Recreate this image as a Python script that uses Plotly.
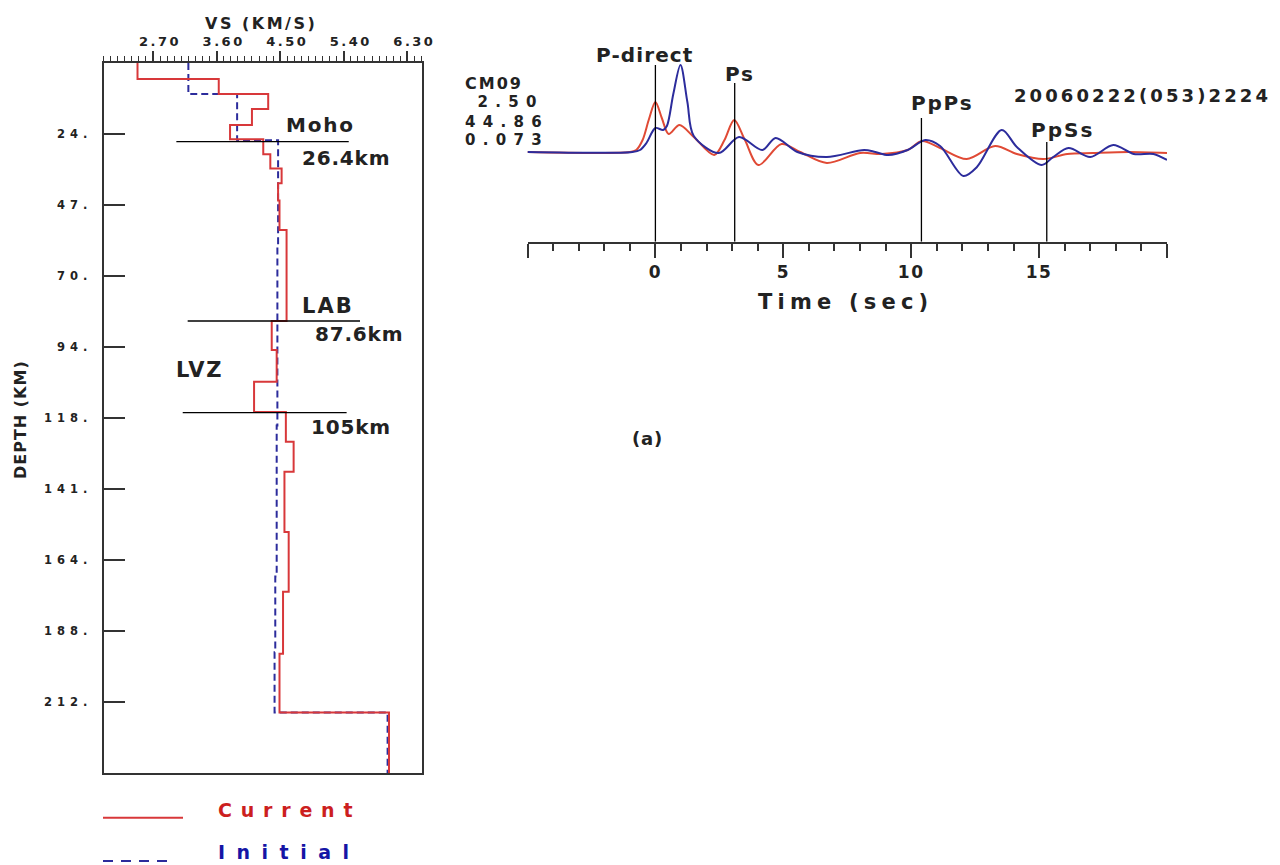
import plotly.graph_objects as go

W, H = 1280, 865


def px_x(x):
    return x / W


def px_y(y):
    return 1 - y / H


def ls(text, sp):
    return f'<span style="letter-spacing:{sp}px">{text}</span>'


FONT = "DejaVu Sans"

# ---------------- velocity models (left panel) ----------------
vs_ticks = [2.70, 3.60, 4.50, 5.40, 6.30]
vs_ticklabels = ["2.70", "3.60", "4.50", "5.40", "6.30"]
depth_ticks = [23.5, 47.0, 70.5, 94.0, 117.5, 141.0, 164.5, 188.0, 211.5]
depth_ticklabels = ["24.", "47.", "70.", "94.", "118.", "141.", "164.", "188.", "212."]

current_top = [0, 5.3, 10.3, 15.2, 20.5, 25.2, 30.2, 34.9, 39.8, 45.5, 55.3, 85.4, 95.0,
               105.5, 115.5, 125.4, 135.3, 155.2, 175.0, 195.5, 215.0, 235.0]
current_vs = [2.48, 3.63, 4.33, 4.10, 3.79, 4.26, 4.36, 4.52, 4.47, 4.49, 4.59, 4.38, 4.45,
              4.13, 4.58, 4.69, 4.56, 4.62, 4.54, 4.49, 6.04, 6.04]

initial_top = [0, 10.3, 25.6, 60.0, 120.0, 170.0, 195.0, 215.0, 235.0]
initial_vs = [3.20, 3.89, 4.47, 4.46, 4.45, 4.43, 4.42, 6.02, 6.02]

boundary_depth = [26.0, 85.4, 115.7]
boundary_vs_from = [3.03, 3.19, 3.12]
boundary_vs_to = [5.47, 5.63, 5.44]

# ---------------- receiver functions (right panel) ----------------
t_red = [-5, -1.0, -0.75, -0.5, -0.25, 0, 0.25, 0.52, 0.94, 1.5, 2.3, 2.7, 3.08, 3.5, 4.03,
         4.93, 5.66, 6.7, 8.0, 8.85, 9.86, 10.42, 11.13, 12.17, 13.28, 14.13, 15.17, 16.1,
         17.1, 18.5, 20]
a_red = [0, 0, 0.02, 0.12, 0.33, 0.50, 0.34, 0.18, 0.27, 0.15, -0.03, 0.12, 0.32, 0.12, -0.13,
         0.08, 0.0, -0.11, -0.01, -0.02, 0.02, 0.11, 0.04, -0.07, 0.06, -0.02, -0.07, -0.02,
         -0.01, 0.0, -0.01]

t_blue = [-5, -0.9, -0.6, -0.35, 0, 0.3, 0.45, 0.7, 0.98, 1.25, 1.5, 2.48, 3.27, 4.18, 4.7,
          5.55, 6.7, 8.16, 8.6, 9.1, 9.86, 10.55, 11.13, 12.04, 12.57, 13.54, 14.13, 15.1,
          15.55, 16.15, 17.0, 17.9, 18.7, 19.47, 20]
a_blue = [0, 0, 0.02, 0.09, 0.24, 0.22, 0.26, 0.58, 0.87, 0.50, 0.16, -0.01, 0.15, 0.02, 0.14,
          0.0, -0.05, 0.02, 0.0, -0.03, 0.02, 0.12, 0.06, -0.24, -0.15, 0.22, 0.05, -0.13,
          -0.05, 0.04, -0.05, 0.07, -0.02, -0.02, -0.08]

phase_names = ["P-direct", "Ps", "PpPs", "PpSs"]
phase_times = [0.0, 3.1, 10.4, 15.3]
phase_line_top = [0.87, 0.69, 0.34, 0.10]

time_ticks = [-5, 0, 5, 10, 15, 20]
time_ticklabels = ["", "0", "5", "10", "15", ""]

station_info = ["CM09", " 2.50", "44.86", "0.073"]
event_id = "20060222(053)2224"

RED = "#d8383a"
BLUE = "#2c2c9c"
FRAME = "#333333"
AMP_MIN, AMP_MAX = -0.897, 1.237

fig = go.Figure()

# velocity models
fig.add_trace(go.Scatter(x=initial_vs, y=initial_top, mode="lines", line_shape="vh",
                         line=dict(color=BLUE, width=2, dash="7px,4px"),
                         xaxis="x", yaxis="y", showlegend=False))
fig.add_trace(go.Scatter(x=current_vs, y=current_top, mode="lines", line_shape="vh",
                         line=dict(color=RED, width=2),
                         xaxis="x", yaxis="y", showlegend=False))
for d, a, b in zip(boundary_depth, boundary_vs_from, boundary_vs_to):
    fig.add_trace(go.Scatter(x=[a, b], y=[d, d], mode="lines",
                             line=dict(color="black", width=1.3),
                             xaxis="x", yaxis="y", showlegend=False))

# receiver functions
fig.add_trace(go.Scatter(x=t_red, y=a_red, mode="lines", line_shape="spline",
                         line=dict(color="#e04a35", width=2, smoothing=0.9),
                         xaxis="x2", yaxis="y2", showlegend=False))
fig.add_trace(go.Scatter(x=t_blue, y=a_blue, mode="lines", line_shape="spline",
                         line=dict(color=BLUE, width=2, smoothing=0.9),
                         xaxis="x2", yaxis="y2", showlegend=False))
for t, top in zip(phase_times, phase_line_top):
    fig.add_trace(go.Scatter(x=[t, t], y=[AMP_MIN, top], mode="lines",
                             line=dict(color="black", width=1.3),
                             xaxis="x2", yaxis="y2", showlegend=False))

bold = dict(family=FONT, weight="bold", color="#222222")

fig.update_layout(
    width=W, height=H, autosize=False, margin=dict(l=0, r=0, t=0, b=0, autoexpand=False),
    paper_bgcolor="white", plot_bgcolor="white", showlegend=False,
    xaxis=dict(domain=[px_x(103.6), px_x(421.5)], range=[2.0, 6.5], side="top", anchor="y",
               tickmode="array", tickvals=vs_ticks,
               ticktext=[ls(t, 2.5) for t in vs_ticklabels],
               ticks="outside", ticklen=10, tickwidth=1.5, tickcolor=FRAME,
               minor=dict(tickmode="linear", tick0=2.0, dtick=0.1, ticks="outside",
                          ticklen=5, tickwidth=1, tickcolor=FRAME),
               showline=True, linewidth=2, linecolor=FRAME, mirror=True,
               showgrid=False, zeroline=False, ticklabelshift=7, automargin=False,
               tickfont=dict(size=13, **bold)),
    yaxis=dict(domain=[px_y(773), px_y(63)], range=[235, 0], anchor="x",
               tickmode="array", tickvals=depth_ticks,
               ticktext=[ls(t, 5) for t in depth_ticklabels],
               ticks="inside", ticklen=21, tickwidth=1.5, tickcolor=FRAME,
               showline=True, linewidth=2, linecolor=FRAME, mirror=True,
               showgrid=False, zeroline=False, ticklabelstandoff=7, automargin=False,
               tickfont=dict(size=11.5, **bold)),
    xaxis2=dict(domain=[px_x(527.5), px_x(1167)], range=[-5, 20], anchor="y2", side="bottom",
                tickmode="array", tickvals=time_ticks,
                ticktext=[ls(t, 1.5) for t in time_ticklabels],
                ticks="outside", ticklen=14, tickwidth=2, tickcolor=FRAME,
                minor=dict(tickmode="linear", tick0=0, dtick=1, ticks="outside",
                           ticklen=7, tickwidth=1.5, tickcolor=FRAME),
                showline=True, linewidth=2, linecolor=FRAME,
                showgrid=False, zeroline=False, automargin=False,
                tickfont=dict(size=17, **bold)),
    xaxis3=dict(overlaying="x2", range=[-5, 20], anchor="y2", side="top",
                tickmode="array", tickvals=time_ticks, showticklabels=False,
                ticks="outside", ticklen=15, tickwidth=2, tickcolor=FRAME,
                minor=dict(tickmode="linear", tick0=0, dtick=1, ticks="outside",
                           ticklen=7, tickwidth=1.5, tickcolor=FRAME),
                showline=True, linewidth=2, linecolor=FRAME,
                showgrid=False, zeroline=False, automargin=False),
    yaxis2=dict(domain=[px_y(241.7), px_y(28.3)], range=[AMP_MIN, AMP_MAX], anchor="x2",
                visible=False),
)

ann = []


def text(x, y, s, size, sp, color="#222222", xanchor="left", angle=0):
    ann.append(dict(x=px_x(x), y=px_y(y), xref="paper", yref="paper", text=ls(s, sp),
                    showarrow=False, xanchor=xanchor, yanchor="middle", textangle=angle,
                    font=dict(family=FONT, size=size, color=color, weight="bold")))


# left panel titles and labels
text(203, 23.5, "VS (KM/S)", 16, 2.5)
text(20, 420, "DEPTH (KM)", 16, 1, xanchor="center", angle=-90)
text(284, 125, "Moho", 20, 1.8)
text(300, 157.5, "26.4km", 20, 0.8)
text(300, 305.5, "LAB", 21, 2)
text(313, 334.5, "87.6km", 20, 0.8)
text(174, 369.5, "LVZ", 21, 1.8)
text(309, 427, "105km", 20, 0.8)

# legend
fig.add_shape(type="line", xref="paper", yref="paper", x0=px_x(103), x1=px_x(183),
              y0=px_y(817.7), y1=px_y(817.7), line=dict(color=RED, width=2))
fig.add_shape(type="line", xref="paper", yref="paper", x0=px_x(103), x1=px_x(175),
              y0=px_y(861), y1=px_y(861), line=dict(color=BLUE, width=2, dash="10px,8px"))
text(216, 810, "Current", 19, 8.8, color="#cc1f1f")
text(216, 852, "Initial", 19, 11.5, color="#1515a5")

# right panel texts
phase_label_left = [594, 723, 909, 1029]
phase_label_y = [55, 74.5, 103, 130]
phase_label_sp = [1.1, 1.7, 1.8, 2.0]
for name, lx, ly, sp in zip(phase_names, phase_label_left, phase_label_y, phase_label_sp):
    text(lx, ly, name, 20, sp)

info_y = [84, 102.5, 122, 140]
for s, iy in zip(station_info, info_y):
    if s == "CM09":
        text(463, iy, s, 16, 2)
    else:
        text(463, iy, s.replace(" ", "&nbsp;"), 15, 7.3)
text(1012, 95, event_id, 18, 3.1)
text(845, 302, "Time (sec)", 21, 5.2, xanchor="center")
text(630, 438, "(a)", 18, 0.8)

fig.update_layout(annotations=ann)

fig.write_html("out.html", config={"responsive": False})
